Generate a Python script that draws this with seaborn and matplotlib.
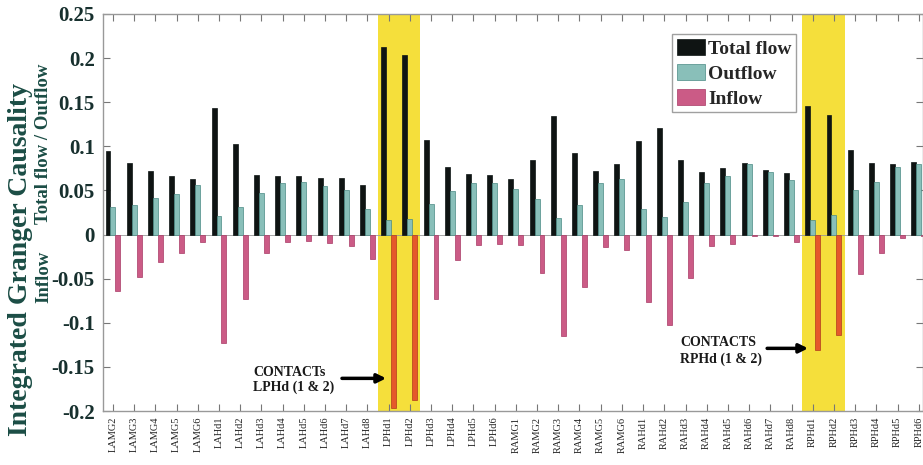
import numpy as np
import pandas as pd
import matplotlib
matplotlib.use("Agg")
import matplotlib.pyplot as plt
import seaborn as sns

# ---------------- data ----------------
regions = ["LAMG2", "LAMG3", "LAMG4", "LAMG5", "LAMG6",
           "LAHd1", "LAHd2", "LAHd3", "LAHd4", "LAHd5", "LAHd6", "LAHd7", "LAHd8",
           "LPHd1", "LPHd2", "LPHd3", "LPHd4", "LPHd5", "LPHd6",
           "RAMG1", "RAMG2", "RAMG3", "RAMG4", "RAMG5", "RAMG6",
           "RAHd1", "RAHd2", "RAHd3", "RAHd4", "RAHd5", "RAHd6", "RAHd7", "RAHd8",
           "RPHd1", "RPHd2", "RPHd3", "RPHd4", "RPHd5", "RPHd6"]

total_flow = [0.095, 0.081, 0.072, 0.066, 0.063,
              0.144, 0.103, 0.067, 0.066, 0.066, 0.064, 0.064, 0.056,
              0.213, 0.204, 0.107, 0.077, 0.069, 0.068,
              0.063, 0.084, 0.134, 0.092, 0.072, 0.080,
              0.106, 0.121, 0.085, 0.071, 0.076, 0.081, 0.073, 0.070,
              0.146, 0.136, 0.096, 0.081, 0.080, 0.082]

outflow = [0.031, 0.034, 0.042, 0.046, 0.056,
           0.021, 0.031, 0.047, 0.058, 0.060, 0.055, 0.051, 0.029,
           0.017, 0.018, 0.035, 0.049, 0.059, 0.058,
           0.052, 0.040, 0.019, 0.033, 0.059, 0.063,
           0.029, 0.020, 0.037, 0.059, 0.066, 0.080, 0.071, 0.062,
           0.016, 0.022, 0.051, 0.060, 0.077, 0.080]

inflow = [-0.064, -0.048, -0.031, -0.021, -0.008,
          -0.123, -0.073, -0.021, -0.008, -0.007, -0.010, -0.013, -0.028,
          -0.197, -0.187, -0.073, -0.029, -0.012, -0.011,
          -0.012, -0.044, -0.115, -0.059, -0.014, -0.018,
          -0.077, -0.102, -0.049, -0.013, -0.011, -0.002, -0.002, -0.008,
          -0.131, -0.114, -0.045, -0.021, -0.004, -0.002]

measures = ["Total flow", "Outflow", "Inflow"]
yticks = [-0.2, -0.15, -0.1, -0.05, 0, 0.05, 0.1, 0.15, 0.2, 0.25]
ytick_labels = ["-0.2", "-0.15", "-0.1", "-0.05", "0", "0.05", "0.1", "0.15", "0.2", "0.25"]
highlight = [["LPHd1", "LPHd2"], ["RPHd1", "RPHd2"]]
annotations = [("CONTACTs\nLPHd (1 & 2)", "LPHd1"), ("CONTACTS\nRPHd (1 & 2)", "RPHd1")]

# ---------------- table ----------------
df = pd.DataFrame({
    "region": regions * 3,
    "measure": np.repeat(measures, len(regions)),
    "value": total_flow + outflow + inflow,
})

sns.set_theme(style="ticks")
plt.rcParams["font.family"] = ["Liberation Serif", "DejaVu Serif"]

fig = plt.figure(figsize=(9.23, 4.65), dpi=100)
ax = fig.add_axes([103 / 923, 1 - 411 / 465, 1 - 103 / 923, 397 / 465])

face = {"Total flow": "#0e1514", "Outflow": "#80c8c0", "Inflow": "#de4882"}
edge = {"Total flow": "#0e1514", "Outflow": "#4a8a84", "Inflow": "#a83a66"}

sns.barplot(data=df, x="region", y="value", hue="measure", order=regions,
            hue_order=measures, palette=face, width=0.7, dodge=True,
            errorbar=None, legend=False, ax=ax, zorder=2)

for cont, m in zip(ax.containers, measures):
    for p in cont.patches:
        p.set_edgecolor(edge[m])
        p.set_linewidth(0.5)

# highlighted contacts
for grp in highlight:
    i0 = regions.index(grp[0])
    i1 = regions.index(grp[-1])
    ax.axvspan(i0 - 0.5, i1 + 0.5, color="#f5df3b", zorder=0, lw=0)
    for i in range(i0, i1 + 1):
        ax.containers[2].patches[i].set_facecolor("#e5582b")
        ax.containers[2].patches[i].set_edgecolor("#b03c1c")

ax.set_xlim(-0.47, 38.2)
ax.set_ylim(-0.2, 0.25)
ax.set_yticks(yticks)
ax.set_yticklabels(ytick_labels, fontsize=15, fontweight="bold", color="#17302e")
ax.set_xticks(range(len(regions)))
ax.set_xticklabels(regions, rotation=90, fontsize=7.5, color="#222222")
ax.set_xlabel("")
ax.set_ylabel("")
ax.tick_params(axis="x", direction="in", length=5, width=0.8, color="#777777",
               top=True, bottom=True, pad=4)
ax.tick_params(axis="y", direction="in", length=5, width=0.8, color="#777777",
               left=True, right=True, pad=6)
for s in ax.spines.values():
    s.set_color("#999999")
    s.set_linewidth(1.0)
ax.axhline(0, color="#999999", lw=0.6, zorder=1)

# legend
leg = ax.legend(ax.containers, measures, loc="upper left", bbox_to_anchor=(0.694, 0.95),
                borderaxespad=0, frameon=True, fancybox=False, edgecolor="#888888",
                prop={"family": "Liberation Serif", "weight": "bold", "size": 14},
                handlelength=1.45, handleheight=0.95, handletextpad=0.15,
                labelspacing=0.3, borderpad=0.25)
leg.get_frame().set_linewidth(1.0)

# annotations
for txt, reg in annotations:
    i = regions.index(reg)
    if reg == "LPHd1":
        tip, tail, tx, ty, ls = (i - 0.12, -0.163), (i - 2.2, -0.163), i - 6.4, -0.165, 1.2
    else:
        tip, tail, tx, ty, ls = (i - 0.22, -0.129), (i - 2.15, -0.129), i - 6.25, -0.132, 1.4
    ax.annotate("", xy=tip, xytext=tail,
                arrowprops=dict(arrowstyle="-|>", lw=2.5, color="black",
                                mutation_scale=13, shrinkA=0, shrinkB=0), zorder=5)
    ax.text(tx, ty, txt, ha="left", va="center", fontsize=10, fontweight="bold",
            color="#1a1a1a", linespacing=ls, zorder=5)

# y labels
fig.text(0.022, 0.441, "Integrated Granger Causality", rotation=90, ha="center",
         va="center", fontsize=20, fontweight="bold", color="#1b4d45")
fig.text(0.047, 0.69, "Total flow / Outflow", rotation=90, ha="center",
         va="center", fontsize=13.5, fontweight="bold", color="#1b4d45")
fig.text(0.047, 0.405, "Inflow", rotation=90, ha="center",
         va="center", fontsize=13.5, fontweight="bold", color="#1b4d45")

fig.savefig("out.png", dpi=100)
